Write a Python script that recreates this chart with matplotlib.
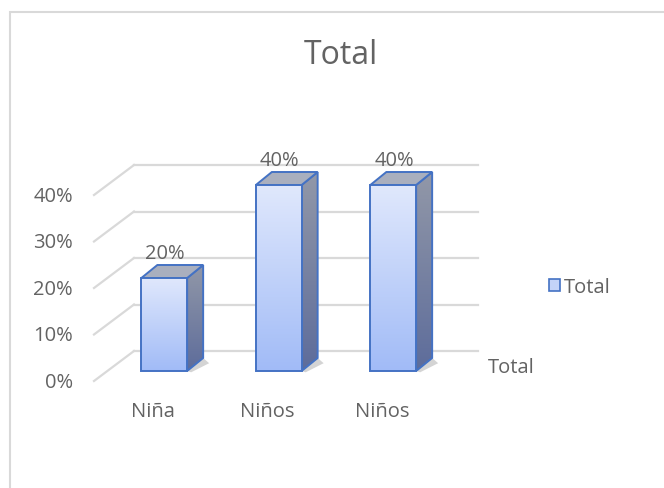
import matplotlib

matplotlib.use("Agg")
import matplotlib.pyplot as plt
import numpy as np
from matplotlib.colors import LinearSegmentedColormap
from matplotlib.patches import Patch, Polygon, Rectangle

plt.rcParams["font.family"] = ["Open Sans", "DejaVu Sans"]

# datos
categorias = ["Niña", "Niños", "Niños"]
valores = [0.20, 0.40, 0.40]
ticks = [0.0, 0.1, 0.2, 0.3, 0.4]
etiquetas_ticks = ["0%", "10%", "20%", "30%", "40%"]
serie = "Total"

GRIS = "#636363"
REJILLA = "#d9d9d9"
BORDE = "#4472c4"
FS = 14.5

fig = plt.figure(figsize=(6.64, 4.89), dpi=100)
W, H = 664, 489
# plano frontal de las barras (en pixeles de la imagen)
ax = fig.add_axes([107 / W, (H - 372) / H, 343.5 / W, 209.25 / H])
ax.set_xlim(-0.5, 2.5)
ax.set_ylim(0, 0.45)
ax.axis("off")

# pixeles -> datos
p0 = ax.transData.transform((0, 0))
p1 = ax.transData.transform((1, 1))
px_x = p1[0] - p0[0]
px_y = p1[1] - p0[1]


def d(dx, dy):
    return dx / px_x, dy / px_y


# pared del fondo y pared lateral
wx, wy = d(27, 20)
fx, fy = d(-13, -10)
for v in ticks:
    ax.plot([-0.5 + wx, 2.5 + wx], [v + wy, v + wy], color=REJILLA, lw=1.6,
            clip_on=False, zorder=1)
    ax.plot([-0.5 + fx, -0.5 + wx], [v + fy, v + wy], color=REJILLA, lw=1.6,
            clip_on=False, zorder=1)

for v, t in zip(ticks, etiquetas_ticks):
    ax.annotate(t, xy=(-0.5, v), xytext=(-34, -11), textcoords="offset pixels",
                ha="right", va="center", fontsize=FS, color=GRIS)

frente = LinearSegmentedColormap.from_list("frente", ["#a1bbf7", "#e0e8fc"])
lado = LinearSegmentedColormap.from_list("lado", ["#5d6c9b", "#9298a8"])
grad = np.linspace(0, 1, 256).reshape(-1, 1)

ancho = 0.4
bx, by = d(16, 13)
x = np.arange(len(categorias))
for xi, v in zip(x, valores):
    l, r = xi - ancho / 2, xi + ancho / 2
    # sombra
    sx, sy = d(20, 0)
    sombra = Polygon([(r, 0), (r + bx, by), (r + bx + sx * 0.3, by * 0.6), (r + sx * 0.2, -by * 0.1)],
                     closed=True, facecolor="#555555", alpha=0.25, edgecolor="none",
                     clip_on=False, zorder=2)
    ax.add_patch(sombra)
    # cara lateral
    cara_l = Polygon([(r, 0), (r + bx, by), (r + bx, v + by), (r, v)], closed=True,
                     facecolor="none", edgecolor=BORDE, lw=1.4, clip_on=False, zorder=4)
    ax.add_patch(cara_l)
    im = ax.imshow(grad, cmap=lado, extent=(r, r + bx, 0, v + by), origin="lower",
                   aspect="auto", zorder=3, clip_on=True)
    im.set_clip_path(cara_l)
    # cara superior
    ax.add_patch(Polygon([(l, v), (r, v), (r + bx, v + by), (l + bx, v + by)], closed=True,
                         facecolor="#a9afbe", edgecolor=BORDE, lw=1.4, clip_on=False,
                         zorder=4))
    # cara frontal
    cara_f = Rectangle((l, 0), ancho, v, facecolor="none", edgecolor=BORDE, lw=1.4,
                       clip_on=False, zorder=6)
    ax.add_patch(cara_f)
    im = ax.imshow(grad, cmap=frente, extent=(l, r, 0, v), origin="lower",
                   aspect="auto", zorder=5)
    im.set_clip_path(cara_f)
    ax.annotate(f"{v:.0%}", xy=(xi, v), xytext=(1, 20), textcoords="offset pixels",
                ha="center", va="baseline", fontsize=FS, color=GRIS)

ax.set_xlim(-0.5, 2.5)
ax.set_ylim(0, 0.45)

for xi, c in zip(x, categorias):
    ax.annotate(c, xy=(xi, 0), xytext=(-11, -40), textcoords="offset pixels",
                ha="center", va="center", fontsize=FS, color=GRIS)

ax.annotate(serie, xy=(2.5, 0), xytext=(37, 4), textcoords="offset pixels",
            ha="left", va="center", fontsize=FS, color=GRIS)

fig.text(341 / W, 1 - 56 / H, "Total", ha="center", va="center", fontsize=23, color=GRIS)

handles = [Patch(facecolor="#c3d3f8", edgecolor=BORDE, lw=1.2, label=serie)]
leg = fig.legend(handles=handles, loc="center left", bbox_to_anchor=(549 / W, 1 - 288 / H),
                 frameon=False, fontsize=FS, handlelength=0.55, handleheight=0.55,
                 handletextpad=0.2, borderaxespad=0, borderpad=0)
for t in leg.get_texts():
    t.set_color(GRIS)

fig.patches.append(Rectangle((10 / W, -0.1), 1.0, (H - 13) / H + 0.1, transform=fig.transFigure,
                             fill=False, edgecolor=REJILLA, lw=1.5))

fig.savefig("out.png", dpi=100)
